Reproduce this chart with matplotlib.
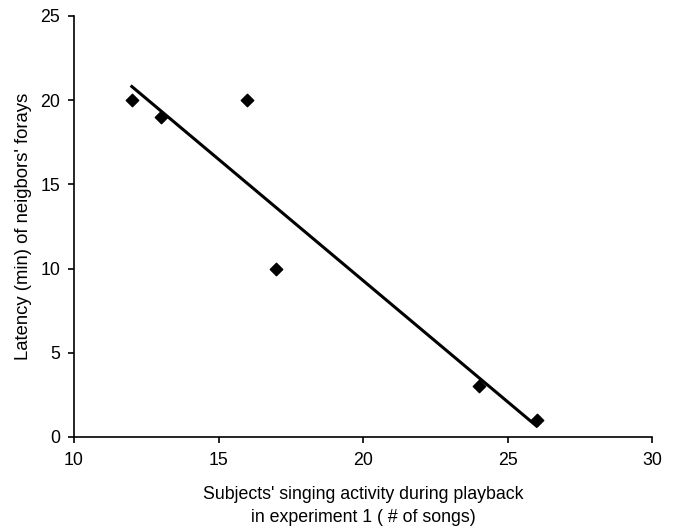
# Scatter of neighbours' foray latency against subjects' singing activity

import numpy as np
import matplotlib.pyplot as plt

plt.rcParams['font.family'] = ['Liberation Sans', 'DejaVu Sans']

songs = [12, 13, 16, 17, 24, 26]
latency = [20, 19, 20, 10, 3, 1]
x_ticks = [10, 15, 20, 25, 30]
y_ticks = [0, 5, 10, 15, 20, 25]


def create():
    fig = plt.figure(figsize=(6.73, 5.29), dpi=100)
    ax = fig.add_axes([0.110, 0.174, 0.859, 0.796])

    # Linear trend line over the data range
    slope, intercept = np.polyfit(songs, latency, 1)
    xs = np.array([min(songs), max(songs)])
    ax.plot(xs, slope * xs + intercept, color='black', linewidth=2.2)

    ax.scatter(songs, latency, marker='D', s=40, color='black', zorder=3)

    ax.set_xlim(10, 30)
    ax.set_ylim(0, 25)
    ax.set_xticks(x_ticks)
    ax.set_yticks(y_ticks)
    ax.tick_params(direction='out', length=4, width=1.2, labelsize=12.8)
    ax.tick_params(axis='x', pad=7)
    ax.tick_params(axis='y', pad=6)

    for side in ['top', 'right']:
        ax.spines[side].set_visible(False)
    for side in ['left', 'bottom']:
        ax.spines[side].set_linewidth(1.2)

    ax.set_xlabel("Subjects' singing activity during playback\nin experiment 1 ( # of songs)",
                  fontsize=12.8, labelpad=12, linespacing=1.45)
    ax.set_ylabel("Latency (min) of neigbors' forays", fontsize=13.3, labelpad=6)

    fig.savefig('out.png', dpi=100)


if __name__ == "__main__":
    create()
